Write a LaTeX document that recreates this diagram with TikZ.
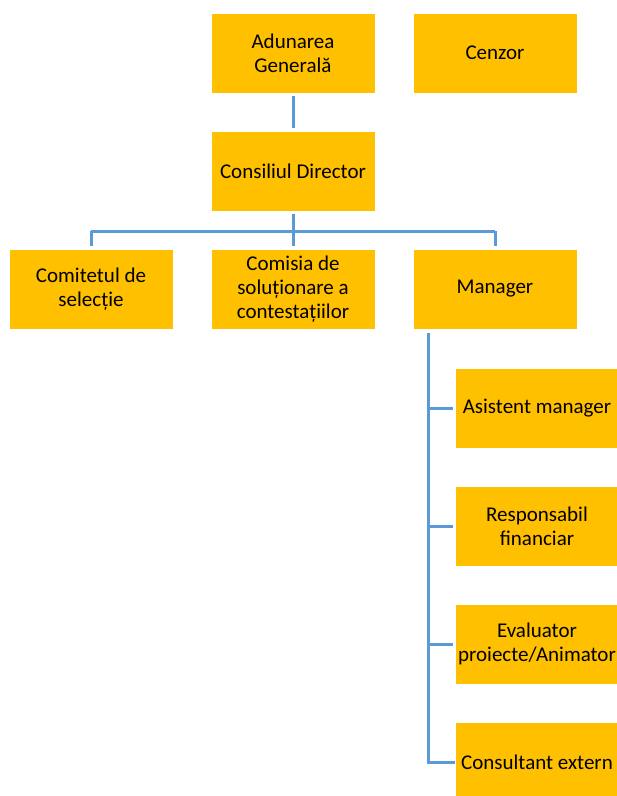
\documentclass[tikz,border=0pt]{standalone}
\usepackage{fontspec}
\setmainfont{Carlito}
\definecolor{boxfill}{HTML}{FFC000}
\definecolor{linkblue}{HTML}{5B9BD5}
\begin{document}
\begin{tikzpicture}[x=1pt,y=-1pt,
  orgbox/.style={fill=boxfill,draw=white,line width=0.8pt,minimum width=164pt,minimum height=80pt,
    inner sep=0pt,align=center,font=\fontsize{21}{24}\selectfont,text=black},
  link/.style={draw=linkblue,line width=3pt}]
\useasboundingbox (0,0) rectangle (617,796);
\node[orgbox] (ag) at (293,53) {Adunarea\\Generală};
\node[orgbox] (cz) at (495,53) {Cenzor};
\node[orgbox] (cd) at (293,171) {Consiliul Director};
\node[orgbox] (cs) at (91,289) {Comitetul de\\selecție};
\node[orgbox] (cm) at (293,289) {Comisia de\\soluționare a\\contestațiilor};
\node[orgbox] (mg) at (495,289) {Manager};
\node[orgbox] (as) at (537,408) {Asistent manager};
\node[orgbox] (rf) at (537,526) {Responsabil\\financiar};
\node[orgbox] (ev) at (537,644) {Evaluator\\proiecte/Animator};
\node[orgbox] (ce) at (537,762) {Consultant extern};
\coordinate (bus) at (293,231);
\coordinate (mtop) at (428,333);
\draw[link,shorten <=3pt,shorten >=3pt] (ag.south) -- (cd.north);
\draw[link,shorten <=3pt] (cd.south) -- (bus);
\draw[link,shorten >=3pt] (cs.north |- bus) -- (cs.north);
\draw[link,shorten >=3pt] (bus) -- (cm.north);
\draw[link,shorten >=3pt] (mg.north |- bus) -- (mg.north);
\draw[link] (cs.north |- bus) -- (mg.north |- bus);
\draw[link,line join=miter] (mtop) -- (mtop |- ce.west) -- (ce.west);
\draw[link,shorten >=2pt] (mtop |- as.west) -- (as.west);
\draw[link,shorten >=2pt] (mtop |- rf.west) -- (rf.west);
\draw[link,shorten >=2pt] (mtop |- ev.west) -- (ev.west);
\end{tikzpicture}
\end{document}
